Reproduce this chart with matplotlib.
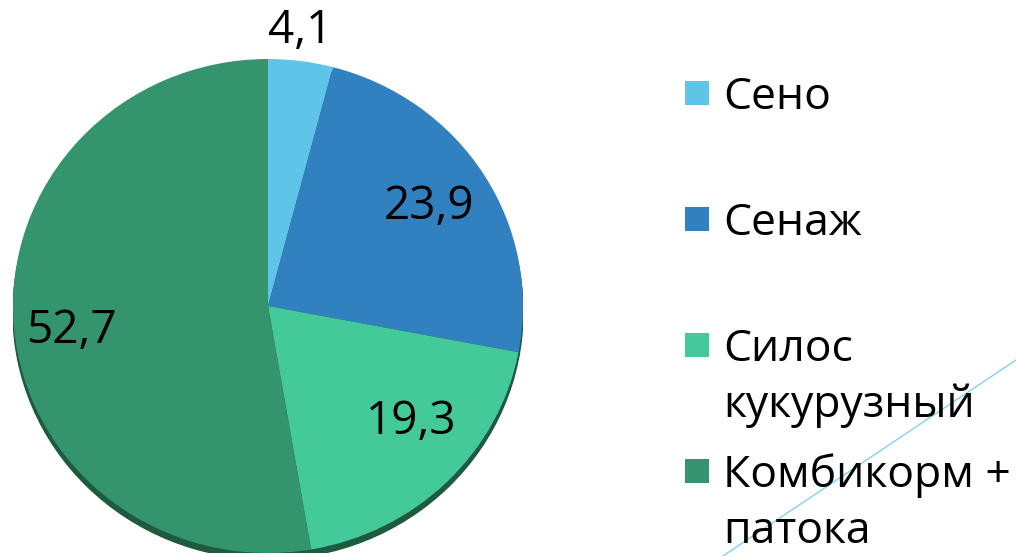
import matplotlib.pyplot as plt
from matplotlib.patches import Ellipse, Rectangle
from matplotlib.lines import Line2D

# Data
categories = ["Сено", "Сенаж", "Силос\nкукурузный", "Комбикорм +\nпатока"]
values = [4.1, 23.9, 19.3, 52.7]
value_labels = ["4,1", "23,9", "19,3", "52,7"]
colors = ["#5EC5E8", "#3180BF", "#44C99B", "#34946D"]

# label positions in pie data coords (layout only)
label_pos = [(0.125, 1.115), (0.63, 0.40), (0.56, -0.47), (-0.77, -0.10)]

plt.rcParams['font.family'] = ['Open Sans', 'DejaVu Sans']

W, H = 1016, 556
fig = plt.figure(figsize=(W / 100, H / 100), dpi=100)

# pie axes (slightly elliptical, like the original 3D-ish pie)
ax = fig.add_axes([13 / W, 3 / H, 510 / W, 494 / H])
ax.add_patch(Ellipse((0, -0.025), 2, 2, color="#1E5A40", zorder=0))
wedges, _ = ax.pie(values, colors=colors, startangle=90, counterclock=False,
                   wedgeprops=dict(linewidth=0))
ax.set_aspect('auto')
ax.set_xlim(-1, 1)
ax.set_ylim(-1.0, 1.0)

for (x, y), txt in zip(label_pos, value_labels):
    ax.text(x, y, txt, ha='center', va='center', fontsize=33, color='black',
            clip_on=False)

# decorative thin line
fig.add_artist(Line2D([1.0, 723 / W], [(H - 360) / H, 0], color="#7FD3F0",
                      lw=1, zorder=0))

# legend drawn manually
first_baseline = 109
entry_step = 126
line_step = 56
for i, (lab, col) in enumerate(zip(categories, colors)):
    base = first_baseline + i * entry_step
    fig.add_artist(Rectangle((685 / W, (H - base + 4) / H), 24 / W, 24 / H,
                             transform=fig.transFigure, color=col, lw=0))
    for k, line in enumerate(lab.split("\n")):
        fig.text(723 / W, (H - base - k * line_step) / H, line, fontsize=32,
                 va='baseline', ha='left', color='black')

fig.savefig("out.png", dpi=100)
